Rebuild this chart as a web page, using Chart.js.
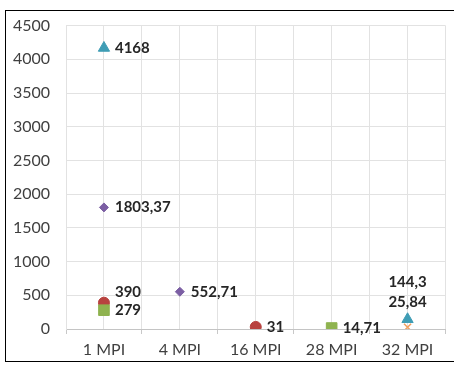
<!DOCTYPE html>
<html lang="es">
<head>
  <meta charset="UTF-8">
  <title>MPI</title>
  <script src="https://cdn.jsdelivr.net/npm/chart.js"></script>
  <style>
    body {
      margin: 0;
      background: #fff;
      font-family: Lato, Arial, sans-serif;
    }
    #wrap {
      position: relative;
      width: 454px;
      height: 366px;
      overflow: hidden;
    }
    #marco {
      position: absolute;
      left: 5px;
      top: 10px;
      width: 470px;
      height: 350px;
      border: 1px solid #000;
      pointer-events: none;
    }
  </style>
</head>
<body>
  <div id="wrap">
    <canvas id="grafico" width="454" height="366"></canvas>
    <div id="marco"></div>
  </div>

  <script>
    // Datos
    const categorias = ['1 MPI', '4 MPI', '16 MPI', '28 MPI', '32 MPI'];
    const serieTriangulo = [4168, null, null, null, 144.3];
    const serieRombo = [1803.37, 552.71, null, null, null];
    const serieCuadrado = [279, null, null, 14.71, null];
    const serieCirculo = [390, null, 31, null, null];
    const serieCruz = [null, null, null, null, 25.84];
    const yMax = 4500;
    const yPaso = 500;

    // convierte una serie en puntos {x, y} centrados en cada categoria
    function puntos(serie) {
      const out = [];
      serie.forEach((v, i) => {
        if (v !== null) out.push({ x: i + 0.5, y: v });
      });
      return out;
    }

    const fmt = v => String(v).replace('.', ',');

    // etiquetas de datos estilo Excel
    const etiquetas = {
      id: 'etiquetas',
      afterDatasetsDraw(chart, args, opts) {
        const ctx = chart.ctx;
        const grupos = {};
        chart.data.datasets.forEach((ds, di) => {
          const meta = chart.getDatasetMeta(di);
          meta.data.forEach((pt, i) => {
            const raw = ds.data[i];
            const cat = categorias[Math.floor(raw.x)];
            const lado = opts.arriba.includes(cat) ? 'arriba' : 'derecha';
            const k = lado + raw.x;
            (grupos[k] = grupos[k] || { lado, items: [] }).items.push({ x: pt.x, y: pt.y, t: fmt(raw.y) });
          });
        });
        ctx.save();
        ctx.font = 'bold 15px Lato';
        ctx.fillStyle = '#262626';
        ctx.textBaseline = 'middle';
        Object.values(grupos).forEach(g => {
          g.items.sort((a, b) => b.y - a.y);
          let prev = Infinity;
          g.items.forEach(it => {
            if (g.lado === 'derecha') {
              let ly = Math.min(it.y, prev - 18);
              ctx.textAlign = 'left';
              ctx.fillText(it.t, it.x + 11, ly);
              prev = ly;
            } else {
              let ly = Math.min(it.y - 25, prev - 20);
              ctx.textAlign = 'center';
              ctx.fillText(it.t, it.x, ly);
              prev = ly;
            }
          });
        });
        ctx.restore();
      }
    };

    const ctx = document.getElementById('grafico').getContext('2d');
    const grafico = new Chart(ctx, {
      type: 'scatter',
      data: {
        datasets: [
          {
            label: 'Triangulo',
            data: puntos(serieTriangulo),
            pointStyle: 'triangle',
            pointRadius: 6.5,
            backgroundColor: '#3f9db5',
            borderColor: '#3f9db5',
            borderWidth: 1
          },
          {
            label: 'Rombo',
            data: puntos(serieRombo),
            pointStyle: 'rectRot',
            pointRadius: 4.5,
            backgroundColor: '#7b5ea3',
            borderColor: '#7b5ea3',
            borderWidth: 1
          },
          {
            label: 'Cuadrado',
            data: puntos(serieCuadrado),
            pointStyle: 'rect',
            pointRadius: 7.5,
            backgroundColor: '#8fb34f',
            borderColor: '#8fb34f',
            borderWidth: 1
          },
          {
            label: 'Circulo',
            data: puntos(serieCirculo),
            pointStyle: 'circle',
            pointRadius: 5.5,
            backgroundColor: '#b8423f',
            borderColor: '#b8423f',
            borderWidth: 1
          },
          {
            label: 'Cruz',
            data: puntos(serieCruz),
            pointStyle: 'crossRot',
            pointRadius: 5,
            backgroundColor: '#f0a060',
            borderColor: '#f0a060',
            borderWidth: 1.5
          }
        ]
      },
      options: {
        responsive: false,
        animation: false,
        layout: { padding: { top: 21, right: 1, left: 0, bottom: 0 } },
        plugins: {
          legend: { display: false },
          tooltip: { enabled: false },
          etiquetas: { arriba: ['32 MPI'] }
        },
        scales: {
          x: {
            type: 'linear',
            min: 0,
            max: categorias.length,
            afterFit: s => { s.height = 37; },
            afterBuildTicks: s => {
              s.ticks = [];
              for (let v = 0; v <= categorias.length; v += 0.5) s.ticks.push({ value: v });
            },
            ticks: {
              autoSkip: false,
              maxRotation: 0,
              padding: 6,
              color: '#404040',
              font: { family: 'Lato', size: 16 },
              callback: v => (v % 1 === 0.5 ? categorias[Math.floor(v)] : '')
            },
            grid: {
              color: '#e2e2e2',
              tickLength: 5,
              tickColor: c => (c.tick && c.tick.value % 1 === 0 ? '#c8c8c8' : 'rgba(0,0,0,0)')
            },
            border: { color: '#c4c4c4' }
          },
          y: {
            min: 0,
            max: yMax,
            afterFit: s => { s.width = 66; },
            ticks: {
              stepSize: yPaso,
              padding: 16,
              color: '#404040',
              font: { family: 'Lato', size: 16 },
              callback: v => String(v)
            },
            grid: {
              color: '#e2e2e2',
              drawTicks: false
            },
            border: { color: '#e2e2e2' }
          }
        }
      },
      plugins: [etiquetas]
    });
  </script>
</body>
</html>
